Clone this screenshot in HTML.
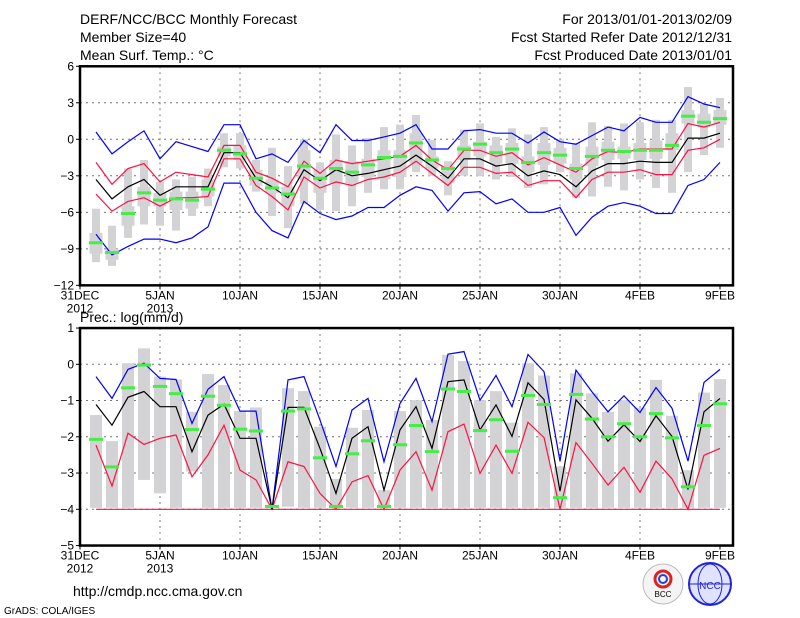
<!DOCTYPE html>
<html><head><meta charset="utf-8"><style>
html,body{margin:0;padding:0;background:#fff;width:800px;height:618px;overflow:hidden}
svg{display:block}
text{font-family:"Liberation Sans",sans-serif;fill:#000}
</style></head><body>
<svg id="c" width="800" height="618" xmlns="http://www.w3.org/2000/svg">
<text x="80" y="24" font-size="14">DERF/NCC/BCC Monthly Forecast</text>
<text x="80" y="42" font-size="14">Member Size=40</text>
<text x="80" y="60" font-size="14">Mean Surf. Temp.: °C</text>
<text x="732" y="24" font-size="14" text-anchor="end">For 2013/01/01-2013/02/09</text>
<text x="732" y="42" font-size="14" text-anchor="end">Fcst Started Refer Date 2012/12/31</text>
<text x="732" y="60" font-size="14" text-anchor="end">Fcst Produced Date 2013/01/01</text>
<text x="80" y="322" font-size="14">Prec.: log(mm/d)</text>
<text x="73" y="596" font-size="14">http://cmdp.ncc.cma.gov.cn</text>
<text x="4" y="614" font-size="10">GrADS: COLA/IGES</text>
<g><circle cx="663" cy="584" r="20" fill="#f4f4f4" stroke="#bbb"/><circle cx="663" cy="579" r="8" fill="none" stroke="#d22" stroke-width="3"/><circle cx="663" cy="579" r="4" fill="none" stroke="#24c" stroke-width="2"/><text x="663" y="597" font-size="8" text-anchor="middle">BCC</text></g>
<g><circle cx="710" cy="584" r="21" fill="#dfe3ff" stroke="#22d" stroke-width="2"/><ellipse cx="710" cy="584" rx="12" ry="20" fill="none" stroke="#22d"/><line x1="690" y1="584" x2="730" y2="584" stroke="#22d"/><text x="710" y="589" font-size="10" text-anchor="middle" fill="#22d" style="fill:#22d">NCC</text></g>
</svg>
<script>
const dayLabels=["31DEC","5JAN","10JAN","15JAN","20JAN","25JAN","30JAN","4FEB","9FEB"];
const tTicks=[6,3,0,-3,-6,-9,-12];
const pTicks=[1,0,-1,-2,-3,-4,-5];
const tMax=[0.6,-1.2,-0.2,0.7,-1.6,-0.2,-0.6,-1.0,1.2,1.2,-1.6,-1.2,-1.9,-0.1,-1.1,1.2,-0.1,-0.1,0.2,0.5,1.2,-0.8,-0.8,0.7,0.8,0.5,0.5,-0.3,0.6,-0.2,-0.4,0.3,1.0,0.7,1.8,1.4,1.4,3.5,2.9,2.6];
const tUp=[-1.9,-3.7,-2.4,-2.0,-3.5,-2.7,-2.9,-3.1,-0.5,-0.5,-2.7,-3.2,-3.9,-1.8,-2.8,-1.7,-2.0,-1.8,-1.6,-1.4,-0.5,-1.7,-2.5,-0.9,-0.9,-1.4,-1.1,-2.1,-1.5,-2.1,-2.7,-1.6,-1.0,-1.1,-0.8,-0.8,-0.8,1.3,1.0,1.4];
const tMean=[-3.3,-4.9,-3.9,-3.3,-4.6,-3.9,-3.9,-3.9,-1.1,-1.1,-3.2,-3.9,-4.8,-2.5,-3.4,-2.5,-3.0,-2.8,-2.5,-2.2,-1.3,-2.2,-3.2,-1.6,-1.6,-2.2,-2.0,-3.0,-2.6,-2.9,-3.9,-2.6,-2.0,-2.0,-1.8,-1.9,-1.9,0.1,0.1,0.5];
const tLow=[-4.5,-5.9,-5.1,-4.8,-5.5,-4.8,-4.8,-4.7,-1.6,-1.6,-3.8,-4.7,-5.8,-3.1,-4.0,-3.5,-3.8,-3.3,-3.1,-2.7,-1.8,-2.8,-3.8,-2.3,-2.3,-2.8,-2.7,-3.8,-3.4,-3.4,-4.8,-3.3,-2.7,-2.7,-2.5,-2.9,-2.9,-0.9,-0.7,0.0];
const tMin=[-7.8,-9.5,-8.8,-8.2,-8.2,-8.5,-8.1,-7.2,-3.6,-3.6,-6.0,-7.5,-8.1,-5.1,-6.1,-6.6,-6.3,-5.6,-5.6,-4.6,-3.9,-4.2,-5.9,-4.4,-4.3,-5.3,-4.9,-6.0,-6.0,-5.6,-7.9,-6.4,-5.5,-5.2,-5.5,-6.1,-6.1,-3.8,-3.3,-1.9];
const tObs=[-8.5,-9.3,-6.1,-4.4,-5.0,-4.9,-5.0,-4.1,-0.9,-1.2,-3.2,-4.0,-4.5,-2.2,-3.2,-2.4,-2.7,-2.1,-1.5,-1.4,-0.3,-1.7,-2.4,-0.8,-0.4,-1.1,-0.8,-1.9,-1.1,-1.3,-2.4,-1.4,-0.9,-1.0,-0.9,-0.9,-0.5,1.9,1.4,1.7];
const tBoxHi=[-5.7,-7.1,-2.4,-1.7,-3.5,-3.3,-3.1,-2.4,0.5,0.5,-1.7,-0.7,-2.2,0,-1.9,0.4,-0.5,0.1,1.0,1.2,2.0,-0.05,-1.8,0.8,1.3,0.2,0.9,0.4,1.0,0,-0.3,1.4,1.1,1.3,1.4,1.6,1.6,4.3,2.9,3.4];
const tBoxLo=[-10.1,-10.4,-8.1,-7.0,-7.1,-7.5,-6.3,-5.5,-2.3,-2.4,-4.3,-6.3,-7.3,-5.3,-5.8,-5.9,-5.5,-4.4,-4.1,-4.1,-2.7,-3.0,-4.6,-3.0,-3.0,-3.3,-3.1,-4.0,-3.7,-2.7,-4.8,-4.7,-3.9,-4.2,-3.3,-4.0,-4.4,-2.7,-1.3,-0.7];
const tQ3=[-7.7,-9.0,-5.5,-3.9,-4.4,-4.3,-4.3,-3.3,-0.6,-0.5,-2.5,-3.3,-3.9,-0.9,-2.5,-1.7,-1.8,-1.6,-0.9,-0.9,0.5,-1.4,-2.2,-0.5,-0.2,-0.5,-0.3,-1.4,-0.3,-0.7,-2.0,-0.6,-0.2,-0.6,-0.3,-0.1,0.5,2.4,2.1,2.4];
const tQ1=[-9.4,-9.9,-7.1,-5.5,-5.5,-5.8,-5.7,-4.7,-1.4,-1.7,-3.8,-4.4,-5.5,-3.3,-4.4,-3.6,-3.6,-3.1,-3.3,-3.1,-2.0,-2.4,-3.6,-1.7,-1.4,-2.0,-2.0,-2.7,-2.1,-2.0,-3.3,-2.2,-1.7,-1.6,-1.7,-1.6,-0.9,1.3,1.0,1.2];
const pMax=[-0.34,-0.94,-0.14,0.03,-0.39,-0.42,-1.63,-0.69,-0.34,-1.29,-1.29,-4.0,-0.43,-0.34,-1.54,-2.82,-1.26,-0.94,-2.69,-1.08,-0.39,-1.58,0.28,0.35,-0.99,-0.31,-1.17,0.27,-0.20,-2.67,-0.16,-0.76,-1.31,-0.87,-1.33,-0.64,-1.21,-2.67,-0.50,-0.14];
const pMean=[-1.11,-1.68,-0.91,-0.75,-1.17,-1.17,-2.41,-1.40,-1.10,-2.04,-2.04,-4.0,-1.19,-1.19,-2.32,-3.56,-2.04,-1.72,-3.47,-1.81,-1.17,-2.32,-0.48,-0.43,-1.81,-1.12,-1.99,-0.51,-0.97,-3.50,-0.98,-1.49,-2.12,-1.67,-2.13,-1.42,-1.99,-3.45,-1.31,-0.94];
const pLow=[-2.23,-3.36,-1.90,-2.21,-2.04,-1.95,-3.10,-2.50,-1.68,-2.92,-3.19,-4.0,-2.69,-2.82,-3.56,-4.0,-3.24,-3.07,-4.0,-2.92,-2.41,-3.47,-1.86,-1.65,-3.01,-2.23,-3.01,-1.60,-2.02,-4.0,-2.16,-2.73,-3.33,-2.84,-3.53,-2.67,-3.16,-4.0,-2.51,-2.32];
const pFloor=[-4,-4,-4,-4,-4,-4,-4,-4,-4,-4,-4,-4,-4,-4,-4,-4,-4,-4,-4,-4,-4,-4,-4,-4,-4,-4,-4,-4,-4,-4,-4,-4,-4,-4,-4,-4,-4,-4,-4,-4];
const pObs=[-2.07,-2.83,-0.65,-0.02,-0.61,-0.81,-1.80,-0.88,-1.13,-1.79,-1.84,-3.92,-1.29,-1.23,-2.58,-3.92,-2.47,-2.11,-3.92,-2.22,-1.69,-2.41,-0.68,-0.75,-1.83,-1.53,-2.40,-0.86,-1.11,-3.68,-0.83,-1.51,-2.0,-1.64,-2.0,-1.36,-2.03,-3.38,-1.69,-1.09];
const pBarHi=[-1.40,-2.12,0.03,0.44,-0.34,-0.42,-1.31,-0.27,-0.57,-1.29,-1.19,-4.0,-0.66,-0.74,-1.72,-3.16,-1.75,-1.26,-3.47,-1.29,-0.99,-1.54,0.26,0.09,-0.99,-0.74,-1.61,0.03,-0.31,-2.82,-0.25,-0.80,-1.31,-0.99,-1.20,-0.43,-1.42,-2.92,-0.78,-0.41];
const pBarLo=[-3.96,-3.96,-3.96,-3.19,-3.56,-3.96,-2.96,-3.96,-3.96,-3.96,-3.96,-4.0,-3.93,-3.96,-3.96,-3.96,-3.96,-3.96,-3.96,-3.96,-3.96,-3.96,-3.96,-3.96,-3.96,-3.96,-3.96,-3.96,-3.96,-3.96,-3.96,-3.96,-3.96,-3.96,-3.96,-3.96,-3.96,-3.96,-3.96,-3.96];

const svg=document.getElementById('c');
const NS='http://www.w3.org/2000/svg';
const X0=80,X1=733,DAY=16;
const xDay=d=>X0+d*DAY;
const xPt=i=>X0+(i+1)*DAY;
const yT=v=>139.3-v*12.17;
const yP=v=>364.3-v*36.25;
function mk(tag,attrs,parent){const e=document.createElementNS(NS,tag);for(const k in attrs)e.setAttribute(k,attrs[k]);(parent||svg).appendChild(e);return e;}

function panel(name,yf,ticks,top,bot){
  const g=mk('g',{});
  
  
  ticks.forEach(t=>{const y=yf(t);
    const gl=mk('line',{x1:X0,x2:X1,y1:y,y2:y,stroke:'#777','stroke-dasharray':'2,4'},g);
    
    
    mk('line',{x1:X0-4,x2:X0,y1:y,y2:y,stroke:'#000'},g);
    const tx=mk('text',{x:X0-6,y:y+4,'font-size':12,'text-anchor':'end'},g);tx.textContent=(t<0?'\u2212'+(-t):t);
    
    
  });
  dayLabels.forEach((l,k)=>{const x=xDay(k*5);
    if(k>0&&k<8){const vl=mk('line',{x1:x,x2:x,y1:top,y2:bot,stroke:'#777','stroke-dasharray':'2,4'},g);
      
      }
    mk('line',{x1:x,x2:x,y1:bot,y2:bot+4,stroke:'#000'},g);
    const tx=mk('text',{x:x,y:bot+14,'font-size':12,'text-anchor':'middle'},g);tx.textContent=l;
    
    
    if(k<2){const ty=mk('text',{x:x,y:bot+27,'font-size':12,'text-anchor':'middle'},g);ty.textContent=k==0?'2012':'2013';
      
      }
  });
  return g;
}
const gT=panel('temp',yT,tTicks,yT(6),yT(-12));
const gP=panel('precip',yP,pTicks,yP(1),yP(-5));

// temperature boxes
tBoxHi.forEach((v,i)=>{const x=xPt(i);
  const r=mk('rect',{x:x-4,y:yT(v),width:8,height:yT(tBoxLo[i])-yT(v),fill:'#d3d3d6'},gT);
  
  
  const q=mk('rect',{x:x-6.5,y:yT(tQ3[i]),width:13,height:yT(tQ1[i])-yT(tQ3[i]),fill:'#d3d3d6'},gT);
  
  
});
pBarHi.forEach((v,i)=>{const x=xPt(i);
  const r=mk('rect',{x:x-6,y:yP(v),width:12,height:Math.max(0,yP(pBarLo[i])-yP(v)),fill:'#d3d3d6'},gP);
  
  
});
function line(g,arr,yf,col,name){
  const p=mk('polyline',{points:arr.map((v,i)=>xPt(i)+','+yf(v).toFixed(1)).join(' '),fill:'none',stroke:col,'stroke-width':1.2},g);
  
  
}
line(gT,tMax,yT,'#0000ff','temp-max-line');
line(gT,tMin,yT,'#0000ff','temp-min-line');
line(gT,tUp,yT,'#ff1040','temp-upper-line');
line(gT,tLow,yT,'#ff1040','temp-lower-line');
line(gT,tMean,yT,'#000','temp-mean-line');
line(gP,pFloor,yP,'#ff1040','precip-floor-line');
line(gP,pLow,yP,'#ff1040','precip-lower-line');
line(gP,pMax,yP,'#0000ff','precip-max-line');
line(gP,pMean,yP,'#000','precip-mean-line');
function marks(g,arr,yf,name){arr.forEach((v,i)=>{
  const r=mk('rect',{x:xPt(i)-7,y:yf(v)-1.5,width:14,height:3,fill:'#44ee44'},g);
  
  
});}
marks(gT,tObs,yT,'temp-observed-mark');
marks(gP,pObs,yP,'precip-observed-mark');
[[gT,yT(6),yT(-12)],[gP,yP(1),yP(-5)]].forEach(([g,t,b])=>{
  const f=mk('rect',{x:X0,y:t,width:X1-X0,height:b-t,fill:'none',stroke:'#000','stroke-width':2.5},g);
  
  
});
</script>
</body></html>
